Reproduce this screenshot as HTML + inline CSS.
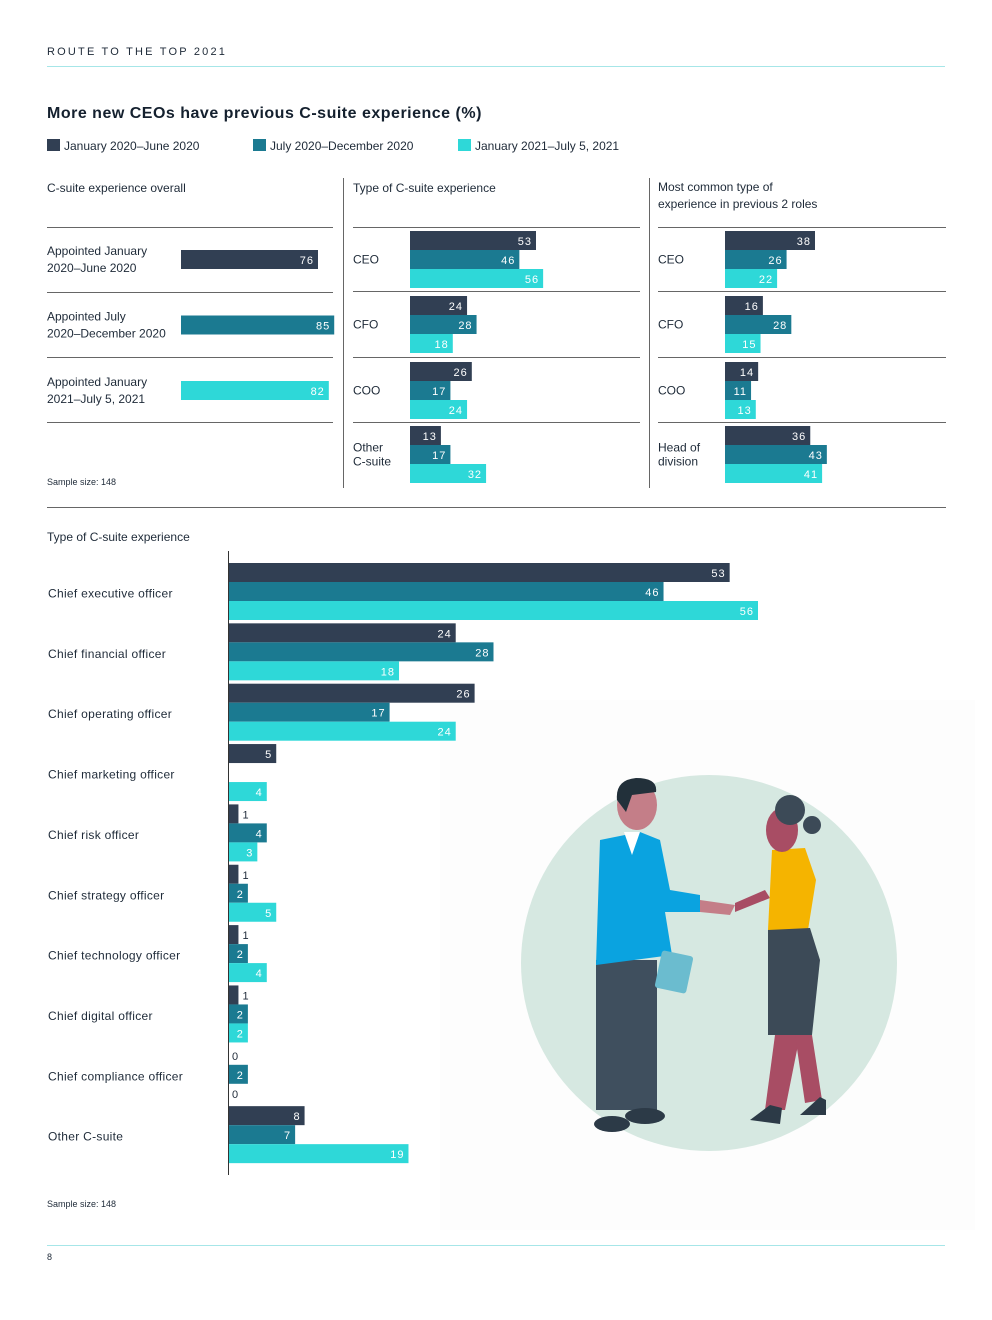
<!DOCTYPE html>
<html><head><meta charset="utf-8">
<style>
html,body{margin:0;padding:0;background:#fff;}
body{width:992px;height:1320px;position:relative;overflow:hidden;font-family:"Liberation Sans",sans-serif;}
svg{position:absolute;left:0;top:0;}
</style></head>
<body>
<svg id="chart" width="992" height="1320" viewBox="0 0 992 1320" xmlns="http://www.w3.org/2000/svg">
<g font-family="Liberation Sans, sans-serif" fill="#1e2a38">
<text x="47" y="55" font-size="11" letter-spacing="2.2">ROUTE TO THE TOP 2021</text>
<line x1="47" y1="66.5" x2="945" y2="66.5" stroke="#a6e6e8" stroke-width="1"/>
<text x="47" y="118" font-size="16" font-weight="bold" letter-spacing="0.5" fill="#14202e">More new CEOs have previous C-suite experience (%)</text>
<g>
<rect x="47" y="139" width="13" height="12" fill="#313f53"/>
<text x="64" y="150" font-size="12">January 2020–June 2020</text>
<rect x="253" y="139" width="13" height="12" fill="#1b7a91"/>
<text x="270" y="150" font-size="12">July 2020–December 2020</text>
<rect x="458" y="139" width="13" height="12" fill="#2ed8d8"/>
<text x="475" y="150" font-size="12">January 2021–July 5, 2021</text>
</g>
<text x="47" y="192" font-size="12">C-suite experience overall</text>
<text x="353" y="192" font-size="12">Type of C-suite experience</text>
<text x="658" y="191" font-size="12">Most common type of</text>
<text x="658" y="208" font-size="12">experience in previous 2 roles</text>
<line x1="343.5" y1="178" x2="343.5" y2="488" stroke="#666"/>
<line x1="649.5" y1="178" x2="649.5" y2="488" stroke="#666"/>
<text x="47" y="485" font-size="9">Sample size: 148</text>
<line x1="47" y1="507.5" x2="946" y2="507.5" stroke="#666"/>
<text x="47" y="541" font-size="12">Type of C-suite experience</text>
<text x="47" y="1207" font-size="9">Sample size: 148</text>
<line x1="47" y1="1245.5" x2="945" y2="1245.5" stroke="#a6e6e8"/>
<text x="47" y="1260" font-size="9">8</text>
</g>
<g id="illus">
<rect x="440" y="700" width="535" height="530" fill="#fdfdfd"/>
<circle cx="709" cy="963" r="188" fill="#d6e8e1"/>
<rect x="596" y="960" width="30" height="150" fill="#3f4f5e"/>
<rect x="625" y="960" width="32" height="150" fill="#3f4f5e"/>
<ellipse cx="612" cy="1124" rx="18" ry="8" fill="#2c3a47"/>
<ellipse cx="645" cy="1116" rx="20" ry="8" fill="#2c3a47"/>
<path d="M600 840 L640 832 L660 840 L670 890 L700 895 L700 912 L665 912 L672 955 L596 965 Z" fill="#0aa3e0"/>
<path d="M624 832 L640 832 L632 855 Z" fill="#fff"/>
<rect x="658" y="953" width="32" height="38" rx="3" fill="#6bbccf" transform="rotate(12 674 972)"/>
<ellipse cx="637" cy="805" rx="20" ry="25" fill="#c47e88"/>
<path d="M617 800 Q615 780 636 778 Q658 778 656 792 L632 795 L626 812 Z" fill="#22303a"/>
<path d="M700 900 L735 905 L730 915 L700 912 Z" fill="#c47e88"/>
<path d="M735 903 L765 890 L770 898 L735 912 Z" fill="#a84d64"/>
<path d="M772 850 L805 848 L816 880 L808 930 L768 930 Z" fill="#f5b400"/>
<path d="M768 930 L810 928 L820 960 L812 1035 L768 1035 Z" fill="#3c4a57"/>
<path d="M775 1035 L800 1035 L785 1110 L765 1110 Z" fill="#a84d64"/>
<path d="M795 1035 L812 1035 L822 1100 L805 1103 Z" fill="#a84d64"/>
<path d="M750 1120 L770 1105 L782 1108 L780 1124 Z" fill="#2c3a47"/>
<path d="M800 1115 L820 1097 L826 1100 L826 1115 Z" fill="#2c3a47"/>
<ellipse cx="782" cy="830" rx="16" ry="22" fill="#a84d64"/>
<circle cx="790" cy="810" r="15" fill="#3c4a57"/>
<circle cx="812" cy="825" r="9" fill="#3c4a57"/>
</g>
<g id="bars"></g>
</svg>
<script>
const periods = ["January 2020–June 2020","July 2020–December 2020","January 2021–July 5, 2021"];
const colors = ["#313f53","#1b7a91","#2ed8d8"];
const overallLabels = [["Appointed January","2020–June 2020"],["Appointed July","2020–December 2020"],["Appointed January","2021–July 5, 2021"]];
const overallValues = [76,85,82];
const typeCats = [["CEO"],["CFO"],["COO"],["Other","C-suite"]];
const typeH1 = [53,24,26,13];
const typeH2 = [46,28,17,17];
const type21 = [56,18,24,32];
const prevCats = [["CEO"],["CFO"],["COO"],["Head of","division"]];
const prevH1 = [38,16,14,36];
const prevH2 = [26,28,11,43];
const prev21 = [22,15,13,41];
const roleCats = ["Chief executive officer","Chief financial officer","Chief operating officer","Chief marketing officer","Chief risk officer","Chief strategy officer","Chief technology officer","Chief digital officer","Chief compliance officer","Other C-suite"];
const roleH1 = [53,24,26,5,1,1,1,1,0,8];
const roleH2 = [46,28,17,null,4,2,2,2,2,7];
const role21 = [56,18,24,4,3,5,4,2,0,19];

const NS="http://www.w3.org/2000/svg";
const g=document.getElementById('bars');
function el(tag,attrs,parent){const e=document.createElementNS(NS,tag);for(const k in attrs)e.setAttribute(k,attrs[k]);(parent||g).appendChild(e);return e;}
function txt(x,y,s,attrs,parent){const t=el('text',Object.assign({x:x,y:y,'font-size':12,fill:'#1e2a38','font-family':'Liberation Sans, sans-serif'},attrs||{}),parent);t.textContent=s;return t;}
function bar(x0,scale,y,h,v,ci,name){
  if(v===null||v===undefined) return;
  const w=v*scale;
  if(v>0){
    const r=el('rect',{x:x0,y:y,width:w,height:h,fill:colors[ci]});
    
    
    let t;
    if(w<15){
      t=txt(x0+w+4,y+h-5,String(v),{'font-size':11});
    } else {
      t=txt(x0+w-4,y+h-5,String(v),{'text-anchor':'end',fill:'#fff','font-size':11,'letter-spacing':'1'});
    }
    
    
  } else {
    const t=txt(x0+3,y+h-5,"0",{'font-size':11});
    
    
  }
}
// panel 1
const p1x=181,p1s=137/76,rows1=[227,292,357,422];
rows1.forEach((y,i)=>{const l=el('line',{x1:47,y1:y+.5,x2:333,y2:y+.5,stroke:'#666'});});
overallValues.forEach((v,i)=>{
  const y=250+i*65.5;
  const t1=txt(47,y+5,overallLabels[i][0]);
  const t2=txt(47,y+22,overallLabels[i][1]);
  bar(p1x,p1s,y,19,v,i,'overall-bar-'+i);
});
// panels 2 & 3
function panel(xl,xr,x0,scale,cats,a,b,c,prefix){
  const rules=[227,291,357,422];
  rules.forEach(y=>{const l=el('line',{x1:xl,y1:y+.5,x2:xr,y2:y+.5,stroke:'#666'});});
  const tops=[231,296,362,426];
  cats.forEach((cat,i)=>{
    const y=tops[i];
    [a,b,c].forEach((arr,k)=>bar(x0,scale,y+k*19,19,arr[i],k,prefix+'-bar-'+i+'-'+k));
    const mid=y+28.5;
    cat.forEach((s,j)=>{const t=txt(xl,mid+4+(j-(cat.length-1)/2)*14,s,{'font-size':12});});
  });
}
panel(353,640,410,126/53,typeCats,typeH1,typeH2,type21,'type');
panel(658,946,725,90/38,prevCats,prevH1,prevH2,prev21,'prev');
// bottom chart
const bx=229,bs=529/56,by0=563,pitch=60.35,bh=19;
const ax=el('line',{x1:228.5,y1:551,x2:228.5,y2:1175,stroke:'#333'});


roleCats.forEach((c,i)=>{
  const y=by0+i*pitch;
  [roleH1,roleH2,role21].forEach((arr,k)=>bar(bx,bs,y+k*bh,bh,arr[i],k,'role-bar-'+i+'-'+k));
  const t=txt(48,y+34.5,c,{'font-size':12,'letter-spacing':'0.3'});
  
  
});
</script>
</body></html>
